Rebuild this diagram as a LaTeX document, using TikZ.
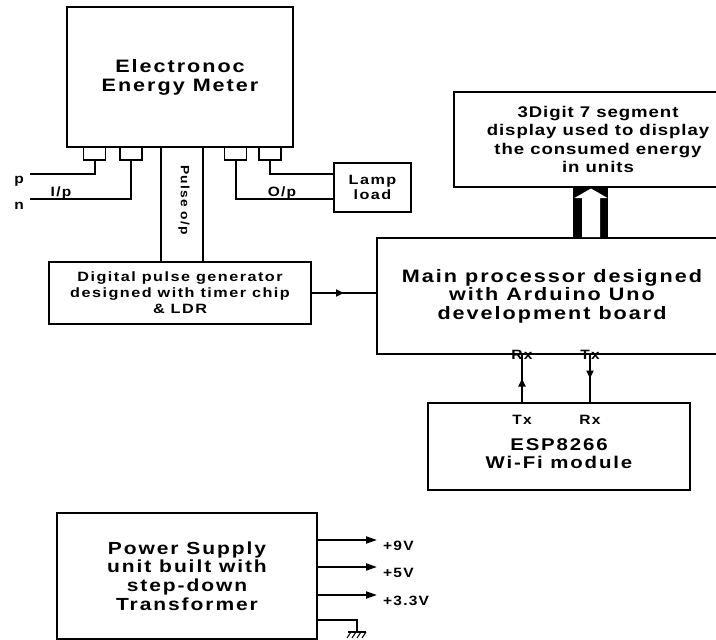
\documentclass[tikz,border=0pt]{standalone}
\usepackage{fontspec}
\setmainfont{Liberation Sans}
\newfontfamily\boxfont[FakeStretch=1.2,LetterSpace=11]{Liberation Sans}
\newfontfamily\dispfont[FakeStretch=1.2,LetterSpace=6]{Liberation Sans}
\newfontfamily\tagfont[FakeStretch=1.15,LetterSpace=9]{Liberation Sans}
\usetikzlibrary{arrows.meta,decorations.markings,positioning}

\begin{document}
\begin{tikzpicture}[x=1pt,y=-1pt,>={Triangle[length=11pt,width=7pt]},
  block/.style={draw,line width=2pt,align=center,inner sep=0pt},
  term/.style={draw,line width=1.7pt,minimum width=22pt,minimum height=13pt,inner sep=0pt},
  wire/.style={line width=2pt},
  tag/.style={font=\tagfont\bfseries\fontsize{13.5}{15}\selectfont,inner sep=0pt},
  midarrow/.style={postaction={decorate},decoration={markings,
    mark=at position 0.5 with {\arrow{Triangle[length=8pt,width=7pt]}}}}]
\useasboundingbox (0,0) rectangle (716,640);
\clip (0,0) rectangle (716,640);
% blocks
\node[block,minimum width=226pt,minimum height=140pt,font=\boxfont\bfseries\fontsize{18}{19}\selectfont]
  (meter) at (180,77) {Electronoc\\Energy Meter};
\node[block,minimum width=77pt,minimum height=49pt,font=\boxfont\bfseries\fontsize{13.5}{15}\selectfont]
  (lamp) at (372.5,187.5) {Lamp\\load};
\node[block,minimum width=262pt,minimum height=62pt,font=\boxfont\bfseries\fontsize{13.5}{16}\selectfont]
  (pulse) at (180,293) {Digital pulse generator\\designed with timer chip\\\& LDR};
\node[block,minimum width=350pt,minimum height=116pt,font=\boxfont\bfseries\fontsize{18}{18.5}\selectfont]
  (main) at (552,296) {Main processor designed\\with Arduino Uno\\development board};
\node[block,minimum width=288pt,minimum height=95pt,font=\dispfont\bfseries\fontsize{15.5}{18.3}\selectfont]
  (disp) at (598,139.5) {3Digit 7 segment\\display used to display\\the consumed energy\\in units};
\node[block,minimum width=262pt,minimum height=87pt] (esp) at (559,446.5) {};
\node[align=center,inner sep=0pt,font=\boxfont\bfseries\fontsize{17}{18}\selectfont]
  (esptxt) at ([yshift=-7.5pt]esp.center) {ESP8266\\Wi-Fi module};
\node[block,minimum width=260pt,minimum height=126pt,font=\boxfont\bfseries\fontsize{17.5}{18.7}\selectfont]
  (power) at (187,576) {Power Supply\\unit built with\\step-down\\Transformer};

% meter terminals
\foreach \n/\x in {t1/94.5,t2/131,t3/235.5,t4/270}
  \node[term] (\n) at (\x,153.5) {};
\coordinate (pin) at (30,174);
\coordinate (nin) at (30,199);
\draw[wire] (t1.south) |- (pin);
\draw[wire] (t2.south) |- (nin);
\draw[wire] (t3.south) |- ([yshift=-11.5pt]lamp.west);
\draw[wire] (t4.south) |- ([yshift=13.5pt]lamp.west);
\node[tag] (plab) at (19,181) {p};
\node[tag] (nlab) at (19,206) {n};
\node[tag,anchor=base] (iplab) at (61,196) {I/p};
\node[tag,anchor=base] (oplab) at (282,196) {O/p};

% pulse output
\draw[wire] ([xshift=-19pt]meter.south) -- ([xshift=-19pt]pulse.north);
\draw[wire] ([xshift=23pt]meter.south) -- ([xshift=23pt]pulse.north);
\node[tag,rotate=-90,font=\tagfont\bfseries\fontsize{12}{13}\selectfont] (pulselab) at (184,200) {Pulse o/p};
\draw[wire,midarrow] (pulse.east) -- (pulse.east -| main.west);

% wide arrow to the display
\fill (573,187) rectangle (608,238);
\fill[white] (582,237) -- (582,198) -- (574.5,198) -- (591,188.5) -- (607.5,198) -- (600,198) -- (600,237) -- cycle;

% serial link
\coordinate (rxe) at ([xshift=-37pt]esp.north);
\coordinate (txe) at ([xshift=31pt]esp.north);
\draw[wire,midarrow] (rxe) -- (rxe |- main.south);
\draw[wire,midarrow] (txe |- main.south) -- (txe);
\node[tag] (rxm) at (rxe |- main.south) {Rx};
\node[tag] (txm) at (txe |- main.south) {Tx};
\node[tag,below=13pt of rxe] (txw) {Tx};
\node[tag,below=13pt of txe] (rxw) {Rx};

% supply rails
\foreach \y/\v [count=\i] in {540/+9V,567/+5V,595/+3.3V} {
  \coordinate (out\i) at (377,\y);
  \draw[wire,->] (power.east |- out\i) -- (out\i);
  \node[tag,anchor=west] (volt\i) at ([xshift=6pt,yshift=-6pt]out\i) {\v};
}
\coordinate (gbend) at (357,620);
\coordinate (gnd) at (357,632);
\draw[wire] (power.east |- gbend) -- (gbend) -- (gnd);
\draw[wire] ([xshift=-9pt]gnd) -- ([xshift=9pt]gnd);
\foreach \dx in {-6,-1,4,9}
  \draw[line width=1pt] ([xshift=\dx pt]gnd) -- ++(-4,6);
\end{tikzpicture}
\end{document}
